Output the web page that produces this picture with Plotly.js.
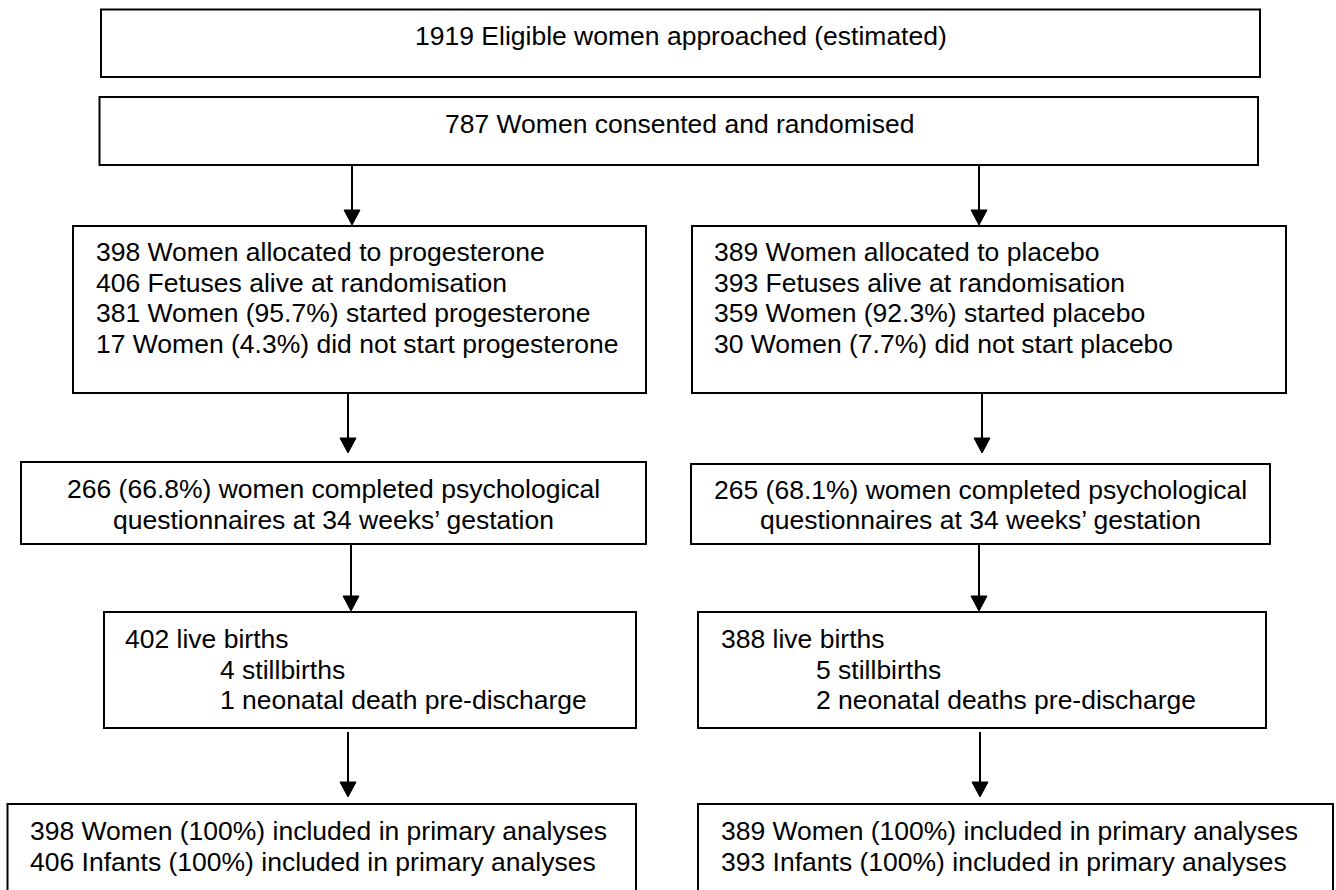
<!DOCTYPE html>
<html>
<head>
<meta charset="utf-8">
<script src="https://cdn.plot.ly/plotly-3.0.1.min.js"></script>
<style>
  html, body { margin: 0; padding: 0; background: #ffffff; }
  #chart { width: 1336px; height: 890px; }
</style>
</head>
<body>
<div id="chart"></div>
<script>
// ---------- content (text of the flow chart) ----------
const topTexts = [
  "1919 Eligible women approached (estimated)",
  "787 Women consented and randomised"
];
const progesteroneAllocation = [
  "398 Women allocated to progesterone",
  "406 Fetuses alive at randomisation",
  "381 Women (95.7%) started progesterone",
  "17 Women (4.3%) did not start progesterone"
];
const placeboAllocation = [
  "389 Women allocated to placebo",
  "393 Fetuses alive at randomisation",
  "359 Women (92.3%) started placebo",
  "30 Women (7.7%) did not start placebo"
];
const progesteroneQuestionnaire = [
  "266 (66.8%) women completed psychological",
  "questionnaires at 34 weeks\u2019 gestation"
];
const placeboQuestionnaire = [
  "265 (68.1%) women completed psychological",
  "questionnaires at 34 weeks\u2019 gestation"
];
const progesteroneBirths = [
  "402 live births",
  "4 stillbirths",
  "1 neonatal death pre-discharge"
];
const placeboBirths = [
  "388 live births",
  "5 stillbirths",
  "2 neonatal deaths pre-discharge"
];
const progesteroneAnalysed = [
  "398 Women (100%) included in primary analyses",
  "406 Infants (100%) included in primary analyses"
];
const placeboAnalysed = [
  "389 Women (100%) included in primary analyses",
  "393 Infants (100%) included in primary analyses"
];

// ---------- layout geometry (pixel space of the page) ----------
const FONT = { family: "Arial, 'Liberation Sans', sans-serif", size: 26.5, color: "#000000" };
const LINE_GAP = 30.5;

// each box: rectangle, text lines, alignment, text anchor x, first-line y, per-line indent
const boxes = [
  { x0: 101, x1: 1260, y0: 9.5, y1: 77, lines: [topTexts[0]], align: "center", tx: 680.5, ty: 36 },
  { x0: 99.5, x1: 1258, y0: 97, y1: 165, lines: [topTexts[1]], align: "center", tx: 679, ty: 123.5 },
  { x0: 73, x1: 646, y0: 226, y1: 393, lines: progesteroneAllocation, align: "left", tx: 94, ty: 252 },
  { x0: 692, x1: 1286, y0: 226, y1: 393, lines: placeboAllocation, align: "left", tx: 712, ty: 252 },
  { x0: 21, x1: 646, y0: 462, y1: 544, lines: progesteroneQuestionnaire, align: "center", tx: 333.5, ty: 489 },
  { x0: 691, x1: 1270, y0: 464, y1: 544, lines: placeboQuestionnaire, align: "center", tx: 980.5, ty: 489.5 },
  { x0: 104, x1: 636, y0: 612, y1: 728, lines: progesteroneBirths, align: "left", tx: 123, ty: 639, indent: [0, 95, 95] },
  { x0: 698, x1: 1266, y0: 612, y1: 728, lines: placeboBirths, align: "left", tx: 719, ty: 639, indent: [0, 95, 95] },
  { x0: 7.5, x1: 636, y0: 804, y1: 900, lines: progesteroneAnalysed, align: "left", tx: 28, ty: 831, open: true },
  { x0: 698, x1: 1333, y0: 804, y1: 900, lines: placeboAnalysed, align: "left", tx: 719, ty: 831, open: true }
];

// arrows: x position, start y, tip y
const arrows = [
  { x: 352, y0: 165, y1: 225 }, { x: 979, y0: 165, y1: 225 },
  { x: 348, y0: 393, y1: 453 }, { x: 982, y0: 393, y1: 453 },
  { x: 351, y0: 544, y1: 611 }, { x: 979, y0: 544, y1: 611 },
  { x: 348, y0: 732, y1: 797 }, { x: 980, y0: 732, y1: 797 }
];

const shapes = [];
const annotations = [];
const LINE = { color: "#000000", width: 2 };

boxes.forEach(b => {
  if (b.open) {
    shapes.push({ type: "path", xref: "x", yref: "y",
      path: `M ${b.x0},${b.y1} L ${b.x0},${b.y0} L ${b.x1},${b.y0} L ${b.x1},${b.y1}`,
      line: LINE });
  } else {
    shapes.push({ type: "rect", xref: "x", yref: "y", x0: b.x0, x1: b.x1, y0: b.y0, y1: b.y1, line: LINE });
  }
  b.lines.forEach((t, i) => {
    const dx = b.indent ? b.indent[i] : 0;
    annotations.push({
      xref: "x", yref: "y", x: b.tx + dx, y: b.ty + i * LINE_GAP,
      text: t, showarrow: false, font: FONT,
      xanchor: b.align === "center" ? "center" : "left", yanchor: "middle",
      align: b.align
    });
  });
});

const HEAD_W = 8, HEAD_H = 15;
arrows.forEach(a => {
  shapes.push({ type: "line", xref: "x", yref: "y", x0: a.x, x1: a.x, y0: a.y0, y1: a.y1 - HEAD_H + 1, line: LINE });
  shapes.push({ type: "path", xref: "x", yref: "y",
    path: `M ${a.x - HEAD_W},${a.y1 - HEAD_H} L ${a.x + HEAD_W},${a.y1 - HEAD_H} L ${a.x},${a.y1} Z`,
    fillcolor: "#000000", line: { color: "#000000", width: 1 } });
});

const data = [{ x: [], y: [], type: "scatter", mode: "markers", hoverinfo: "skip", showlegend: false }];

const layout = {
  width: 1336, height: 890,
  margin: { l: 0, r: 0, t: 0, b: 0, pad: 0 },
  paper_bgcolor: "#ffffff", plot_bgcolor: "#ffffff",
  showlegend: false,
  xaxis: { range: [0, 1336], visible: false, fixedrange: true },
  yaxis: { range: [890, 0], visible: false, fixedrange: true },
  shapes: shapes,
  annotations: annotations
};

Plotly.newPlot("chart", data, layout, { staticPlot: true, displayModeBar: false });
</script>
</body>
</html>
